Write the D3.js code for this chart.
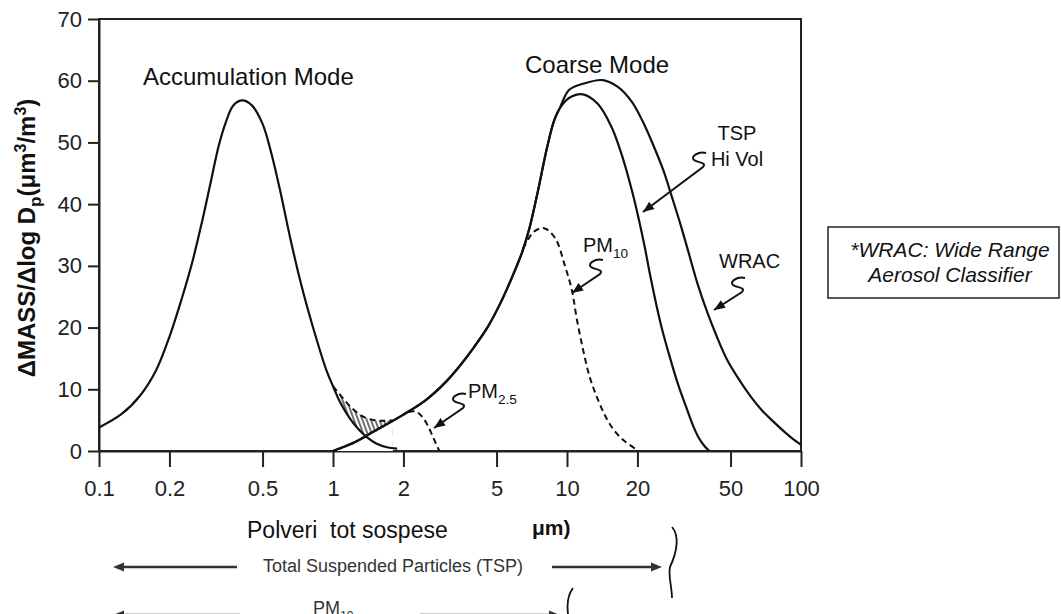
<!DOCTYPE html>
<html>
<head>
<meta charset="utf-8">
<script src="https://cdn.jsdelivr.net/npm/d3@7"></script>
<style>
  body { margin: 0; background: #fff; }
  svg { display: block; font-family: 'Liberation Sans', Arial, sans-serif; }
</style>
</head>
<body>
<div class="chartContainer"></div>
<script>
var W = 1061;
var H = 614;

// [particle diameter um, dMASS/dlogDp]
var accumulationMode = [[0.1, 3.8], [0.125, 6.0], [0.15, 9.0], [0.175, 13], [0.2, 18.5], [0.225, 24.5], [0.25, 30.5],
  [0.275, 37], [0.3, 43.5], [0.325, 49.5], [0.35, 53.5], [0.375, 56], [0.41, 56.8], [0.45, 56], [0.5, 53],
  [0.543, 48.5], [0.6, 41.5], [0.652, 35], [0.72, 28], [0.78, 23], [0.86, 17.5], [0.935, 13.2], [1.0, 10.5],
  [1.07, 8], [1.17, 5.5], [1.28, 3.6], [1.4, 2.2], [1.53, 1.2], [1.7, 0.6], [1.88, 0.4]];

var coarseRise = [[1.0, 0], [1.25, 1.5], [1.5, 3.2], [2.0, 5.9], [2.5, 8.3], [3.0, 11.0], [3.5, 13.9], [4.0, 16.8],
  [4.6, 20.2], [5.2, 24], [5.8, 28], [6.4, 32], [6.9, 36], [7.5, 42], [8.2, 49], [8.8, 53.5], [9.3, 55.5]];

var tspHiVol = [[10.2, 57.2], [11.7, 57.8], [13.5, 56.3], [15.5, 52.5], [17.3, 47.5], [19, 42], [20.2, 37.8],
  [21.5, 33], [22.8, 28], [25, 21], [27.6, 15], [30, 10.5], [32.4, 7], [34.5, 4.2], [36.5, 2.2], [38.5, 0.9], [40.6, 0]];

var wrac = [[10.2, 58.5], [11.7, 59.5], [14.2, 60.1], [16.5, 59], [19, 56.5], [21, 53.5], [23, 50.2], [25.8, 45.5],
  [28, 41.3], [30.5, 36.8], [33, 32.3], [36.2, 27], [40, 22.2], [43.4, 18.8], [48, 15], [54.3, 11.6], [61, 8.8],
  [68, 6.6], [76, 4.8], [85, 3.1], [92, 2], [100, 1]];

var pm10 = [[6.5, 32.8], [7.2, 35.5], [7.98, 36.1], [8.9, 34.5], [9.8, 30], [10.5, 26], [11.0, 21.5], [11.7, 16.5],
  [12.5, 12], [13.5, 8.5], [14.7, 5.4], [16, 3.2], [17.5, 1.7], [19.5, 0.4]];

var pm25 = [[2.1, 6.3], [2.25, 6.4], [2.4, 5.6], [2.55, 4.0], [2.68, 2.2], [2.8, 0.6], [2.85, 0]];

var fineOverlap = [[1.0, 10.5], [1.1, 8.6], [1.2, 7.0], [1.34, 5.6], [1.5, 5.0], [1.65, 4.9], [1.8, 5.0]];

var xTicks = [0.1, 0.2, 0.5, 1, 2, 5, 10, 20, 50, 100];
var yTicks = [0, 10, 20, 30, 40, 50, 60, 70];

var svg = d3.select('.chartContainer').append('svg').attr('width', W).attr('height', H);

var xScale = d3.scaleLog().domain([0.1, 100]).range([99, 801]);
var yScale = d3.scaleLinear().domain([0, 70]).range([451, 19]);

var line = d3.line()
  .x(function (d) { return xScale(d[0]); })
  .y(function (d) { return yScale(d[1]); })
  .curve(d3.curveCatmullRom.alpha(0.5));

var under = d3.area()
  .x(function (d) { return xScale(d[0]); })
  .y0(yScale(0))
  .y1(function (d) { return yScale(d[1]); })
  .curve(d3.curveCatmullRom.alpha(0.5));

/* ===== AXES ===== */

var xAxis = d3.axisBottom(xScale)
  .tickValues(xTicks)
  .tickFormat(d3.format('~g'))
  .tickSize(16)
  .tickSizeOuter(0)
  .tickPadding(13);

var yAxis = d3.axisLeft(yScale)
  .tickValues(yTicks)
  .tickSize(11)
  .tickSizeOuter(0)
  .tickPadding(6);

var gx = svg.append('g').attr('transform', 'translate(0,' + yScale(0) + ')').call(xAxis);
var gy = svg.append('g').attr('transform', 'translate(' + xScale(0.1) + ',0)').call(yAxis);

[gx, gy].forEach(function (g) {
  g.selectAll('path, line').attr('stroke', '#222').attr('stroke-width', 2);
  g.selectAll('text').attr('font-size', 22).attr('fill', '#222').attr('font-family', 'Liberation Sans, Arial, sans-serif');
});

svg.append('rect')
  .attr('x', xScale(0.1)).attr('y', yScale(70))
  .attr('width', xScale(100) - xScale(0.1)).attr('height', yScale(0) - yScale(70))
  .attr('fill', 'none').attr('stroke', '#222').attr('stroke-width', 2);

/* ===== HATCHED OVERLAP ===== */

var defs = svg.append('defs');
defs.append('pattern')
  .attr('id', 'hatch').attr('patternUnits', 'userSpaceOnUse')
  .attr('width', 4).attr('height', 4)
  .attr('patternTransform', 'rotate(-20)')
  .append('line').attr('x1', 1).attr('y1', 0).attr('x2', 1).attr('y2', 4)
  .attr('stroke', '#111').attr('stroke-width', 1.2);

defs.append('clipPath').attr('id', 'overlapClip')
  .append('path').attr('d', under(fineOverlap));

var hatchG = svg.append('g').attr('clip-path', 'url(#overlapClip)');
hatchG.append('rect').attr('x', xScale(0.9)).attr('y', yScale(12))
  .attr('width', xScale(2) - xScale(0.9)).attr('height', yScale(0) - yScale(12))
  .attr('fill', 'url(#hatch)');
hatchG.append('path').attr('d', under(accumulationMode)).attr('fill', '#fff');
hatchG.append('path').attr('d', under(coarseRise)).attr('fill', '#fff');

/* ===== CURVES ===== */

var solid = [accumulationMode, coarseRise.concat(tspHiVol), coarseRise.concat(wrac)];
svg.selectAll('path.solid')
  .data(solid)
  .enter()
  .append('path')
  .attr('class', 'solid')
  .attr('d', line)
  .attr('fill', 'none')
  .attr('stroke', '#111')
  .attr('stroke-width', 2.2);

svg.selectAll('path.dashed')
  .data([pm10, pm25, fineOverlap])
  .enter()
  .append('path')
  .attr('class', 'dashed')
  .attr('d', line)
  .attr('fill', 'none')
  .attr('stroke', '#111')
  .attr('stroke-width', 2)
  .attr('stroke-dasharray', '6,4');

/* ===== ANNOTATIONS ===== */

function arrowHead(tx, ty, fx, fy) {
  var a = Math.atan2(ty - fy, tx - fx);
  var L = 11, w = 4.5;
  var bx = tx - L * Math.cos(a), by = ty - L * Math.sin(a);
  return 'M' + tx + ',' + ty +
    'L' + (bx + w * Math.sin(a)) + ',' + (by - w * Math.cos(a)) +
    'L' + (bx - w * Math.sin(a)) + ',' + (by + w * Math.cos(a)) + 'Z';
}

function squiggle(sx, sy, tx, ty) {
  var ex = sx - 3, ey = sy + 14;
  svg.append('path')
    .attr('d', 'M' + sx + ',' + sy +
      'C' + (sx - 8) + ',' + (sy - 2) + ' ' + (sx - 16) + ',' + (sy + 4) + ' ' + (sx - 12) + ',' + (sy + 7) +
      'C' + (sx - 8) + ',' + (sy + 10) + ' ' + (sx + 1) + ',' + (sy + 9) + ' ' + ex + ',' + ey +
      'L' + tx + ',' + ty)
    .attr('fill', 'none').attr('stroke', '#111').attr('stroke-width', 2);
  svg.append('path').attr('d', arrowHead(tx, ty, ex, ey)).attr('fill', '#111');
}

squiggle(706, 153, 643, 212);
squiggle(603, 260, 572, 293);
squiggle(745, 278, 714, 310);
squiggle(466, 394, 434, 428);

/* ===== WRAC NOTE BOX ===== */

svg.append('rect').attr('x', 828).attr('y', 227).attr('width', 231).attr('height', 71)
  .attr('fill', '#fff').attr('stroke', '#222').attr('stroke-width', 1.5);

var labels = svg.append('g').attr('fill', '#111');

labels.append('text').attr('x', 950).attr('y', 257).attr('font-size', 21).attr('font-style', 'italic')
  .attr('text-anchor', 'middle').text('*WRAC: Wide Range');
labels.append('text').attr('x', 950).attr('y', 282).attr('font-size', 21).attr('font-style', 'italic')
  .attr('text-anchor', 'middle').text('Aerosol Classifier');

labels.append('text').attr('x', 143).attr('y', 85).attr('font-size', 24).text('Accumulation Mode');
labels.append('text').attr('x', 525).attr('y', 73).attr('font-size', 24).text('Coarse Mode');
labels.append('text').attr('x', 737).attr('y', 140).attr('font-size', 20).attr('text-anchor', 'middle').text('TSP');
labels.append('text').attr('x', 737).attr('y', 166).attr('font-size', 20).attr('text-anchor', 'middle').text('Hi Vol');
labels.append('text').attr('x', 719).attr('y', 268).attr('font-size', 20).text('WRAC');

function pmLabel(g, x, y, sub, size) {
  var t = g.append('text').attr('x', x).attr('y', y).attr('font-size', size);
  t.append('tspan').text('PM');
  t.append('tspan').attr('dy', 6).attr('font-size', size * 0.68).text(sub);
  return t;
}
pmLabel(labels, 583, 252, '10', 20);
pmLabel(labels, 468, 398, '2.5', 20);

// y axis title
var yt = labels.append('text')
  .attr('transform', 'translate(35,238) rotate(-90)')
  .attr('text-anchor', 'middle')
  .attr('font-size', 24)
  .attr('font-weight', 'bold');
yt.append('tspan').text('\u0394MASS/\u0394log D');
yt.append('tspan').attr('dy', 6).attr('font-size', 17).text('p');
yt.append('tspan').attr('dy', -6).text('(\u03bcm');
yt.append('tspan').attr('dy', -9).attr('font-size', 16).text('3');
yt.append('tspan').attr('dy', 9).text('/m');
yt.append('tspan').attr('dy', -9).attr('font-size', 16).text('3');
yt.append('tspan').attr('dy', 9).text(')');

// remains of the x axis title
labels.append('text').attr('x', 532).attr('y', 535).attr('font-size', 21).attr('font-weight', 'bold').text('\u03bcm)');

labels.append('text').attr('x', 247).attr('y', 538).attr('font-size', 23)
  .style('white-space', 'pre').text('Polveri  tot sospese');

/* ===== SIZE RANGE ARROWS ===== */

var ranges = svg.append('g').attr('fill', '#333').attr('stroke', '#333');

function rangeArrow(y, x1, x2, x3, x4) {
  ranges.append('line').attr('x1', x1 + 4).attr('x2', x2).attr('y1', y).attr('y2', y).attr('stroke-width', 2.5);
  ranges.append('line').attr('x1', x3).attr('x2', x4 - 4).attr('y1', y).attr('y2', y).attr('stroke-width', 2.5);
  ranges.append('path').attr('stroke', 'none').attr('d', arrowHead(x1, y, x1 + 10, y));
  ranges.append('path').attr('stroke', 'none').attr('d', arrowHead(x4, y, x4 - 10, y));
}
rangeArrow(567, 113, 237, 552, 662);
rangeArrow(615, 113, 240, 420, 560);

ranges.append('text').attr('stroke', 'none').attr('x', 393).attr('y', 572).attr('font-size', 18)
  .attr('text-anchor', 'middle').text('Total Suspended Particles (TSP)');
pmLabel(ranges.append('g').attr('stroke', 'none'), 313, 614, '10', 18);

svg.append('path').attr('d', 'M672,527 C679,535 678,550 670,567 C668,575 672,588 672,598')
  .attr('fill', 'none').attr('stroke', '#111').attr('stroke-width', 1.8);
svg.append('path').attr('d', 'M573,588 C567,596 567,606 568,614')
  .attr('fill', 'none').attr('stroke', '#111').attr('stroke-width', 1.8);
</script>
</body>
</html>
